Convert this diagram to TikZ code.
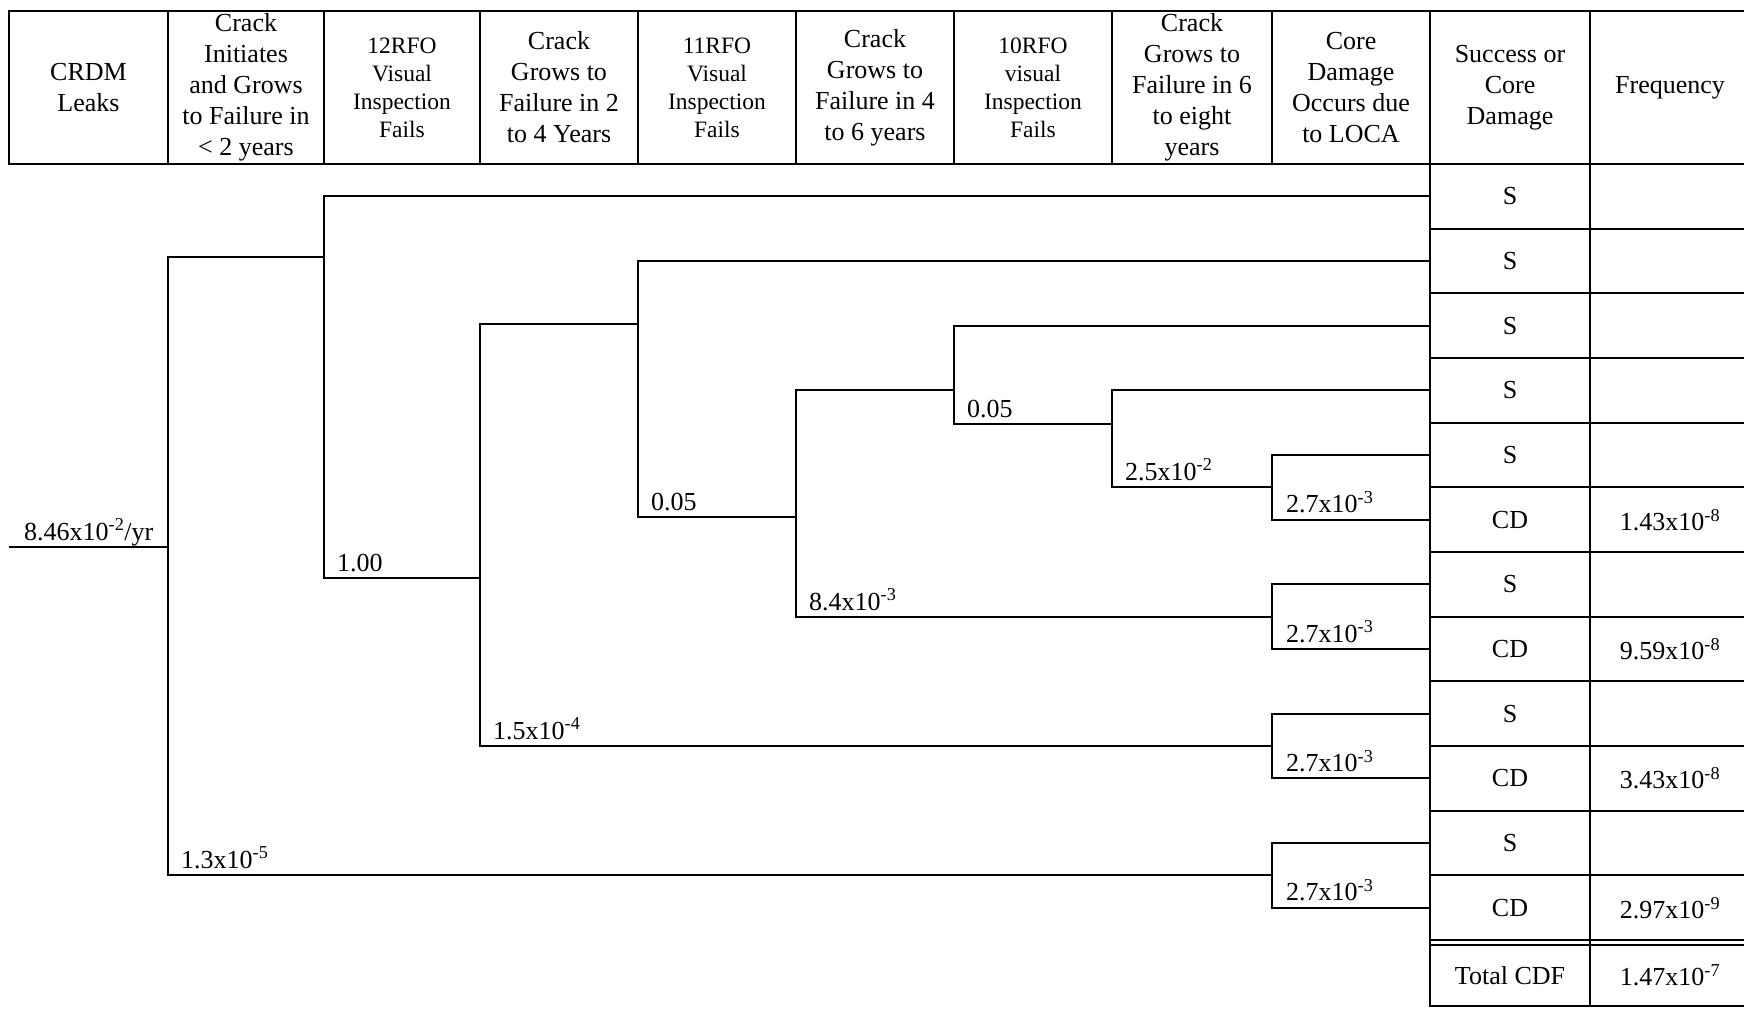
\documentclass[tikz,border=0pt]{standalone}
\usepackage{fontspec}
\setmainfont{Liberation Serif}
\usepackage{tikz}
\usetikzlibrary{positioning}
\newcommand{\bdfont}{\fontsize{26}{31}\selectfont}
\newcommand{\rfofont}{\fontsize{23.5}{28}\selectfont}
\newcommand{\pw}[1]{\textsuperscript{#1}}

\begin{document}
\begin{tikzpicture}[
  x=1pt, y=-1pt,
  node distance=0pt,
  head/.style={draw, line width=1.8pt, outer sep=0pt, inner sep=0pt, align=center,
               font=\bdfont, minimum height=153pt},
  rfo/.style={head, font=\rfofont},
  cell/.style={draw, line width=1.8pt, outer sep=0pt, inner sep=0pt, font=\bdfont,
               minimum width=160pt, minimum height=64.67pt},
  prob/.style={anchor=base west, font=\bdfont, inner sep=0pt},
  br/.style={line width=2.1pt}
]
\useasboundingbox (0,0) rectangle (1744,1009);

% header
\node[head, minimum width=159pt] (hLeak) at (88.5,87.5) {CRDM\\Leaks};
\node[head, minimum width=156pt, right=of hLeak] (hInit) {Crack\\Initiates\\and Grows\\to Failure in\\\textless{} 2 years};
\node[rfo, minimum width=156pt, right=of hInit] (hV12) {12RFO\\Visual\\Inspection\\Fails};
\node[head, minimum width=158pt, right=of hV12] (hG24) {Crack\\Grows to\\Failure in 2\\to 4 Years};
\node[rfo, minimum width=158pt, right=of hG24] (hV11) {11RFO\\Visual\\Inspection\\Fails};
\node[head, minimum width=158pt, right=of hV11] (hG46) {Crack\\Grows to\\Failure in 4\\to 6 years};
\node[rfo, minimum width=158pt, right=of hG46] (hV10) {10RFO\\visual\\Inspection\\Fails};
\node[head, minimum width=160pt, right=of hV10] (hG68) {Crack\\Grows to\\Failure in 6\\to eight\\years};
\node[head, minimum width=158pt, right=of hG68] (hLoca) {Core\\Damage\\Occurs due\\to LOCA};
\node[head, minimum width=160pt, right=of hLoca] (hOut) {Success or\\Core\\Damage};
\node[head, minimum width=160pt, right=of hOut] (hFreq) {Frequency};

% outcome column
\node[cell, below=of hOut] (s1) {S};
\node[cell, below=of s1] (s2) {S};
\node[cell, below=of s2] (s3) {S};
\node[cell, below=of s3] (s4) {S};
\node[cell, below=of s4] (s5) {S};
\node[cell, below=of s5] (s6) {CD};
\node[cell, below=of s6] (s7) {S};
\node[cell, below=of s7] (s8) {CD};
\node[cell, below=of s8] (s9) {S};
\node[cell, below=of s9] (s10) {CD};
\node[cell, below=of s10] (s11) {S};
\node[cell, below=of s11] (s12) {CD};
\node[cell, minimum height=61pt, below=5pt of s12] (tot) {Total CDF};

% frequency column
\node[cell, right=of s1] (f1) {};
\node[cell, right=of s2] (f2) {};
\node[cell, right=of s3] (f3) {};
\node[cell, right=of s4] (f4) {};
\node[cell, right=of s5] (f5) {};
\node[cell, right=of s6] (f6) {1.43x10\pw{-8}};
\node[cell, right=of s7] (f7) {};
\node[cell, right=of s8] (f8) {9.59x10\pw{-8}};
\node[cell, right=of s9] (f9) {};
\node[cell, right=of s10] (f10) {3.43x10\pw{-8}};
\node[cell, right=of s11] (f11) {};
\node[cell, right=of s12] (f12) {2.97x10\pw{-9}};
\node[cell, minimum height=61pt, right=of tot] (ftot) {1.47x10\pw{-7}};
\draw[line width=1.8pt] (s12.south west) -- (tot.north west);
\draw[line width=1.8pt] (s12.south east) -- (tot.north east);

% branch points
\coordinate (lk) at (9,547);
\coordinate (A-t) at (168,257);   \coordinate (A-b) at (168,875);
\coordinate (B-t) at (324,196.3); \coordinate (B-b) at (324,578);
\coordinate (C-t) at (480,324);   \coordinate (C-b) at (480,746);
\coordinate (D-t) at (638,261);   \coordinate (D-b) at (638,517);
\coordinate (E-t) at (796,390);   \coordinate (E-b) at (796,617);
\coordinate (F-t) at (954,325.7); \coordinate (F-b) at (954,424);
\coordinate (G-t) at (1112,390.3); \coordinate (G-b) at (1112,487);
\coordinate (T1-t) at (1272,455);   \coordinate (T1-b) at (1272,519.7);
\coordinate (T2-t) at (1272,584.3); \coordinate (T2-b) at (1272,649);
\coordinate (T3-t) at (1272,713.7); \coordinate (T3-b) at (1272,778.3);
\coordinate (T4-t) at (1272,843);   \coordinate (T4-b) at (1272,907.7);

% event tree
\draw[br] (lk) -- (lk -| A-t);
\draw[br] (A-t -| B-t) -- (A-t) -- (A-b) -- (A-b -| T4-t);
\draw[br] (s1.west |- B-t) -- (B-t) -- (B-b) -- (B-b -| C-t);
\draw[br] (C-t -| D-t) -- (C-t) -- (C-b) -- (C-b -| T3-t);
\draw[br] (s2.west |- D-t) -- (D-t) -- (D-b) -- (D-b -| E-t);
\draw[br] (E-t -| F-t) -- (E-t) -- (E-b) -- (E-b -| T2-t);
\draw[br] (s3.west |- F-t) -- (F-t) -- (F-b) -- (F-b -| G-t);
\draw[br] (s4.west |- G-t) -- (G-t) -- (G-b) -- (G-b -| T1-t);
\draw[br] (s5.west |- T1-t) -- (T1-t) -- (T1-b) -- (s6.west |- T1-b);
\draw[br] (s7.west |- T2-t) -- (T2-t) -- (T2-b) -- (s8.west |- T2-b);
\draw[br] (s9.west |- T3-t) -- (T3-t) -- (T3-b) -- (s10.west |- T3-b);
\draw[br] (s11.west |- T4-t) -- (T4-t) -- (T4-b) -- (s12.west |- T4-b);

% branch probabilities
\node[prob] (pLk) at ([xshift=15pt,yshift=7pt]lk) {8.46x10\pw{-2}/yr};
\node[prob] (pA) at ([xshift=13pt,yshift=7pt]A-b) {1.3x10\pw{-5}};
\node[prob] (pB) at ([xshift=13pt,yshift=7pt]B-b) {1.00};
\node[prob] (pC) at ([xshift=13pt,yshift=7pt]C-b) {1.5x10\pw{-4}};
\node[prob] (pD) at ([xshift=13pt,yshift=7pt]D-b) {0.05};
\node[prob] (pE) at ([xshift=13pt,yshift=7pt]E-b) {8.4x10\pw{-3}};
\node[prob] (pF) at ([xshift=13pt,yshift=7pt]F-b) {0.05};
\node[prob] (pG) at ([xshift=13pt,yshift=7pt]G-b) {2.5x10\pw{-2}};
\node[prob] (pT1) at ([xshift=14pt,yshift=7pt]T1-b) {2.7x10\pw{-3}};
\node[prob] (pT2) at ([xshift=14pt,yshift=7pt]T2-b) {2.7x10\pw{-3}};
\node[prob] (pT3) at ([xshift=14pt,yshift=7pt]T3-b) {2.7x10\pw{-3}};
\node[prob] (pT4) at ([xshift=14pt,yshift=7pt]T4-b) {2.7x10\pw{-3}};
\end{tikzpicture}
\end{document}
